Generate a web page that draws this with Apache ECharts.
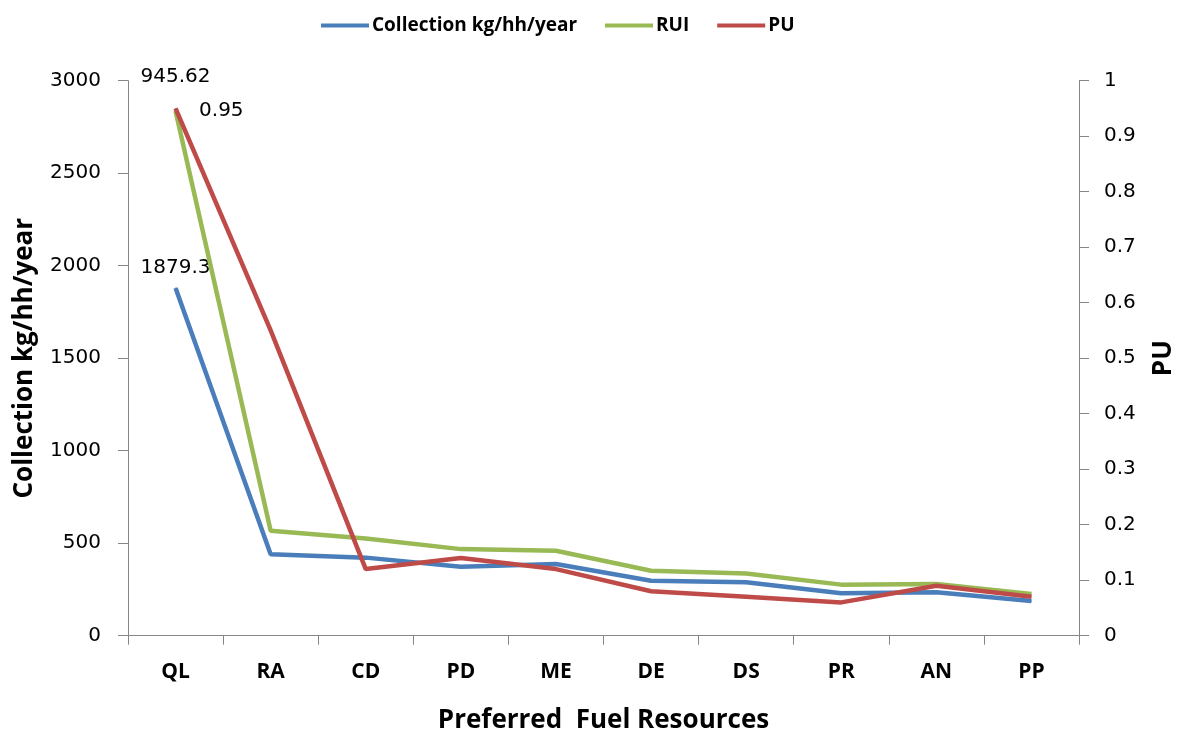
<!DOCTYPE html>
<html>
<head>
<meta charset="utf-8">
<script src="https://cdn.jsdelivr.net/npm/echarts@6/dist/echarts.min.js"></script>
<style>
html,body{margin:0;padding:0;background:#fff;}
#c{width:1178px;height:730px;}
</style>
</head>
<body>
<div id="c"></div>
<script>
const categories = ['QL','RA','CD','PD','ME','DE','DS','PR','AN','PP'];
const collection = [1879.3, 440, 422, 373, 388, 297, 289, 229, 235, 188];
const rui = [945.62, 189, 175, 156, 153, 117, 112, 92, 93, 75];
const pu = [0.95, 0.55, 0.12, 0.14, 0.12, 0.08, 0.07, 0.06, 0.09, 0.07];
const leftTicks = [0, 500, 1000, 1500, 2000, 2500, 3000];
const rightTicks = [0, 0.1, 0.2, 0.3, 0.4, 0.5, 0.6, 0.7, 0.8, 0.9, 1];

const numFont = 'DejaVu Sans';
const boldFont = 'Open Sans';
const axisGray = '#868686';

function firstLabel(arr) {
  return arr.map((v, i) => i === 0 ? { value: v, label: { show: true } } : v);
}

const chart = echarts.init(document.getElementById('c'), null, { renderer: 'canvas' });
chart.setOption({
  animation: false,
  backgroundColor: '#ffffff',
  legend: {
    top: 11,
    left: 316,
    icon: 'rect',
    itemWidth: 48,
    itemHeight: 4,
    itemGap: 28,
    textStyle: { fontFamily: boldFont, fontWeight: 'bold', fontSize: 19, color: '#000', padding: [0, 0, 0, -2] },
    data: ['Collection kg/hh/year', 'RUI', 'PU']
  },
  grid: { left: 128, right: 99, top: 80.7, bottom: 94.3, containLabel: false, outerBoundsMode: 'none' },
  xAxis: {
    type: 'category',
    data: categories,
    boundaryGap: true,
    name: 'Preferred  Fuel Resources',
    nameLocation: 'middle',
    nameGap: 72,
    nameTextStyle: { fontFamily: boldFont, fontWeight: 'bold', fontSize: 26, color: '#000' },
    axisLine: { lineStyle: { color: axisGray, width: 1 } },
    axisTick: { show: true, length: 9, alignWithLabel: false, lineStyle: { color: axisGray } },
    axisLabel: { fontFamily: boldFont, fontWeight: 'bold', fontSize: 21, color: '#000', margin: 26 },
    splitLine: { show: false }
  },
  yAxis: [
    {
      type: 'value',
      min: leftTicks[0],
      max: leftTicks[leftTicks.length - 1],
      interval: 500,
      position: 'left',
      name: 'Collection kg/hh/year',
      nameLocation: 'middle',
      nameGap: 90,
      nameRotate: 90,
      nameTextStyle: { fontFamily: boldFont, fontWeight: 'bold', fontSize: 26, color: '#000' },
      axisLine: { show: true, lineStyle: { color: axisGray, width: 1 } },
      axisTick: { show: true, length: 10, lineStyle: { color: axisGray } },
      axisLabel: { fontFamily: numFont, fontSize: 20, color: '#000', margin: 27, formatter: v => String(v) },
      splitLine: { show: false }
    },
    {
      type: 'value',
      min: rightTicks[0],
      max: rightTicks[rightTicks.length - 1],
      interval: 0.1,
      position: 'right',
      name: 'PU',
      nameLocation: 'middle',
      nameGap: 72,
      nameRotate: 90,
      nameTextStyle: { fontFamily: boldFont, fontWeight: 'bold', fontSize: 26, color: '#000' },
      axisLine: { show: true, lineStyle: { color: axisGray, width: 1 } },
      axisTick: { show: true, length: 10, lineStyle: { color: axisGray } },
      axisLabel: { fontFamily: numFont, fontSize: 20, color: '#000', margin: 25,
        formatter: v => String(Math.round(v * 10) / 10) },
      splitLine: { show: false }
    },
    {
      type: 'value',
      min: 0,
      max: 1000,
      show: false,
      splitLine: { show: false }
    }
  ],
  series: [
    {
      name: 'Collection kg/hh/year',
      type: 'line',
      yAxisIndex: 0,
      data: firstLabel(collection),
      symbol: 'circle',
      symbolSize: 1,
      showSymbol: true,
      lineStyle: { color: '#4A7EBB', width: 4.5 },
      itemStyle: { color: '#4A7EBB' },
      label: { show: false, position: 'top', distance: 10, fontFamily: numFont, fontSize: 20, color: '#000' },
      z: 2
    },
    {
      name: 'RUI',
      type: 'line',
      yAxisIndex: 2,
      data: firstLabel(rui),
      symbol: 'circle',
      symbolSize: 1,
      showSymbol: true,
      lineStyle: { color: '#98B954', width: 4.5 },
      itemStyle: { color: '#98B954' },
      label: { show: false, position: 'top', distance: 24, fontFamily: numFont, fontSize: 20, color: '#000' },
      z: 3
    },
    {
      name: 'PU',
      type: 'line',
      yAxisIndex: 1,
      data: firstLabel(pu),
      symbol: 'circle',
      symbolSize: 1,
      showSymbol: true,
      lineStyle: { color: '#BE4B48', width: 4.5 },
      itemStyle: { color: '#BE4B48' },
      label: { show: false, position: 'right', distance: 23, offset: [0, 2], fontFamily: numFont, fontSize: 20, color: '#000' },
      z: 4
    }
  ]
});
</script>
</body>
</html>
